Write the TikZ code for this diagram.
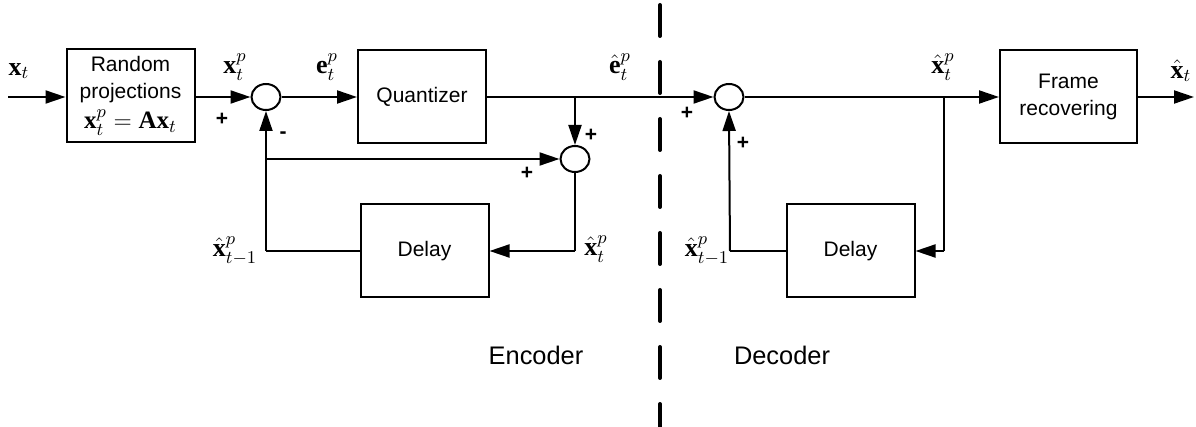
\documentclass[tikz,border=0pt]{standalone}
\usepackage{amsmath}
\usepackage{fontspec}
\setmainfont{Liberation Serif}
\setsansfont{Liberation Sans}
\usetikzlibrary{arrows.meta,shapes.geometric}
\tikzset{
  ar/.style={-{Triangle[length=10pt,width=6.5pt]},line width=1pt},
  ln/.style={line width=1pt},
  blk/.style={draw,line width=1pt,minimum width=64pt,minimum height=46.5pt,inner sep=0pt,align=center,font=\sffamily\fontsize{10.5}{13.5}\selectfont},
  sm/.style={ellipse,draw,line width=1pt,minimum width=14.5pt,minimum height=13pt,inner sep=0pt},
  lb/.style={inner sep=0pt,font=\fontsize{13}{15}\selectfont},
  sg/.style={inner sep=0pt,font=\sffamily\bfseries\fontsize{10.5}{12}\selectfont},
  tx/.style={inner sep=0pt,font=\sffamily\fontsize{12.7}{15}\selectfont}
}

\begin{document}
\begin{tikzpicture}[x=0.5pt,y=-0.5pt]
\useasboundingbox (0,0) rectangle (1196,427);
% encoder
\coordinate (in) at (8,97);
\node[blk] (rp) at (130.5,96) {Random\\projections\\[1.5pt]{\fontsize{12.5}{13.5}\selectfont$\mathbf{x}_t^p=\mathbf{A}\mathbf{x}_t$}};
\node[sm] (s1) at (266,97) {};
\node[blk] (q) at (422,97) {Quantizer};
\coordinate (j1) at (575,97);
\node[sm] (s2) at (575,159) {};
\coordinate (t1) at (266,159);
\node[blk] (d1) at (424.5,251) {Delay};
\coordinate (c1) at (266,251);
\coordinate (c2) at (575,251);
% decoder
\node[sm] (s3) at (729,97) {};
\coordinate (j2) at (944,97);
\node[blk,minimum width=68.5pt] (fr) at (1068.5,97) {Frame\\recovering};
\coordinate (out) at (1194,97);
\node[blk] (d2) at (850.5,251) {Delay};
\coordinate (c3) at (730,251);
\coordinate (c4) at (944,251);

\draw[ar] (in) -- (in -| rp.west);
\draw[ar] (rp.east |- s1) -- (s1.west);
\draw[ar] (s1.east) -- (q.west);
\draw[ln] (q.east) -- (j1);
\draw[ar] (j1) -- (s2.north);
\draw[ar] (t1) -- (s2.west);
\draw[ln] (s2.south) -- (c2);
\draw[ar] (c2) -- (d1.east);
\draw[ln] (d1.west) -- (c1);
\draw[ar] (c1) -- (s1.south);
\draw[ar] (j1) -- (s3.west);
\draw[ar] (s3.east) -- (fr.west);
\draw[ar] (fr.east) -- (out);
\draw[ln] (j2) -- (c4);
\draw[ar] (c4) -- (d2.east);
\draw[ln] (d2.west) -- (c3);
\draw[ar] (c3) -- (s3.south);

% labels
\node[lb] (lxt) at (19,71) {$\mathbf{x}_t$};
\node[lb] (lxp) at (235,67) {$\mathbf{x}_t^p$};
\node[lb] (lep) at (327,67) {$\mathbf{e}_t^p$};
\node[lb] (lehp) at (620,67) {$\hat{\mathbf{e}}_t^p$};
\node[lb] (lxhp) at (943,67) {$\hat{\mathbf{x}}_t^p$};
\node[lb] (lxh) at (1181,71) {$\hat{\mathbf{x}}_t$};
\node[lb] (lx1) at (235,251) {$\hat{\mathbf{x}}_{t-1}^p$};
\node[lb] (lx2) at (596,249) {$\hat{\mathbf{x}}_t^p$};
\node[lb] (lx3) at (707,251) {$\hat{\mathbf{x}}_{t-1}^p$};
\foreach \px/\py in {222/119,591/135,527/173,687/113,743/143}
  \node[sg] at (\px,\py) {+};
\node[sg] (mn) at (283,135) {-};

% split line
\coordinate (dtop) at (660,5);
\coordinate (dbot) at (660,432);
\draw[line width=2pt,line cap=round,dash pattern=on 15.5pt off 13pt] (dtop) -- (dbot);
\node[tx] (enc) at (536,355) {Encoder};
\node[tx] (dec) at (782,355) {Decoder};
\end{tikzpicture}
\end{document}
